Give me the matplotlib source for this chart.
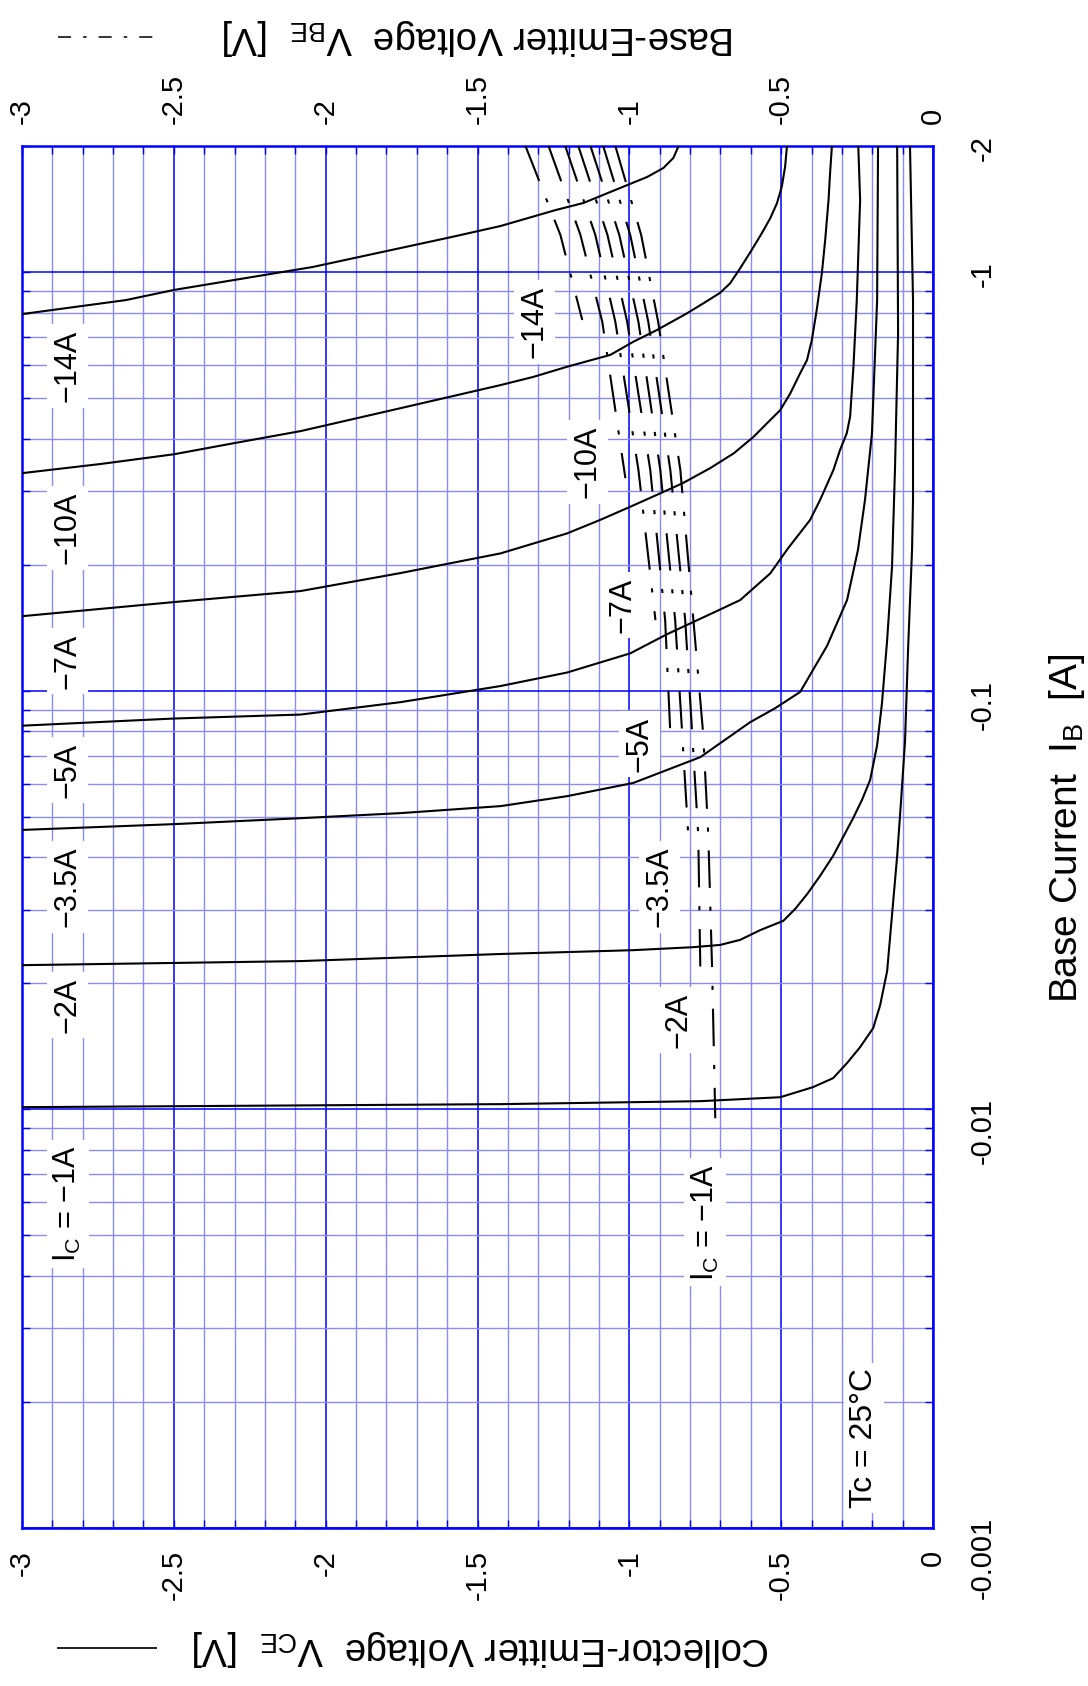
import numpy as np
import matplotlib
matplotlib.use('Agg')
import matplotlib.pyplot as plt
from matplotlib.ticker import FixedLocator, FuncFormatter, NullFormatter
from matplotlib.lines import Line2D

plt.rcParams['font.family'] = ['Liberation Sans', 'DejaVu Sans']
plt.rcParams['mathtext.fontset'] = 'custom'
plt.rcParams['mathtext.rm'] = 'Liberation Sans'
plt.rcParams['mathtext.it'] = 'Liberation Sans:italic'
plt.rcParams['mathtext.bf'] = 'Liberation Sans:bold'

# ---------------- data (IB in A, negative as on the chart; voltages in V) ----------------
# Collector-Emitter voltage VCE vs base current IB, one curve per IC
vce_ic14 = [-0.839, -0.855, -0.888, -0.941, -1.007, -1.151, -1.243, -1.424, -1.586, -2.043, -2.5, -2.658, -2.997]
ib_ic14 = [-1.99, -1.873, -1.772, -1.687, -1.613, -1.462, -1.406, -1.288, -1.212, -1.028, -0.906, -0.857, -0.794]

vce_ic10 = [-0.481, -0.487, -0.498, -0.514, -0.536, -0.564, -0.597, -0.635, -0.668, -0.701, -0.756, -0.810,
            -0.909, -0.986, -1.0625, -1.205, -1.315, -1.424, -1.753, -2.082, -2.303, -2.5, -2.740, -2.997]
ib_ic10 = [-1.994, -1.785, -1.599, -1.459, -1.344, -1.237, -1.129, -1.021, -0.940, -0.892, -0.842, -0.797,
           -0.727, -0.682, -0.634, -0.594, -0.562, -0.537, -0.473, -0.417, -0.390, -0.367, -0.348, -0.331]

vce_ic7 = [-0.333, -0.339, -0.344, -0.355, -0.366, -0.383, -0.399, -0.415, -0.4375, -0.470, -0.503, -0.547,
           -0.591, -0.656, -0.734, -0.8245, -0.912, -0.997, -1.095, -1.205, -1.315, -1.424, -1.753, -2.082,
           -2.5, -2.997]
ib_ic7 = [-1.994, -1.721, -1.486, -1.193, -0.993, -0.811, -0.688, -0.616, -0.573, -0.513, -0.468, -0.435,
          -0.404, -0.369, -0.340, -0.313, -0.293, -0.275, -0.256, -0.2375, -0.2248, -0.2128, -0.191, -0.173,
          -0.1628, -0.1507]

vce_ic5 = [-0.246, -0.240, -0.251, -0.262, -0.273, -0.284, -0.306, -0.328, -0.372, -0.405, -0.477, -0.536,
           -0.635, -0.7115, -0.876, -0.997, -1.205, -1.424, -1.753, -2.082, -2.5, -2.997]
ib_ic5 = [-1.994, -1.486, -0.857, -0.594, -0.451, -0.412, -0.376, -0.3365, -0.2853, -0.2556, -0.219, -0.1906,
          -0.1646, -0.155, -0.1364, -0.1228, -0.1105, -0.1026, -0.0939, -0.0877, -0.0858, -0.0825]

vce_ic3p5 = [-0.181, -0.184, -0.201, -0.224, -0.247, -0.283, -0.349, -0.4375, -0.520, -0.602, -0.766, -0.987,
             -1.204, -1.424, -1.753, -2.082, -2.5, -2.997]
ib_ic3p5 = [-1.99, -0.857, -0.412, -0.2853, -0.2171, -0.1646, -0.1279, -0.0993, -0.0908, -0.0841, -0.0694,
            -0.0602, -0.0560, -0.0530, -0.0510, -0.0496, -0.0480, -0.0465]

vce_ic2 = [-0.118, -0.115, -0.125, -0.135, -0.151, -0.168, -0.184, -0.207, -0.234, -0.263, -0.329, -0.372,
           -0.414, -0.454, -0.493, -0.569, -0.635, -0.701, -0.789, -0.987, -1.424, -2.082, -2.997]
ib_ic2 = [-1.99, -0.715, -0.342, -0.1974, -0.1321, -0.0934, -0.0741, -0.0612, -0.0548, -0.0496, -0.0403,
          -0.0361, -0.0327, -0.0301, -0.0282, -0.0268, -0.0254, -0.0247, -0.0244, -0.0240, -0.0235, -0.0226,
          -0.0221]

vce_ic1 = [-0.0757, -0.0658, -0.0658, -0.069, -0.0822, -0.0921, -0.105, -0.118, -0.135, -0.151, -0.174,
           -0.197, -0.240, -0.283, -0.329, -0.395, -0.503, -0.766, -1.424, -2.997]
ib_ic1 = [-1.99, -0.857, -0.2853, -0.2171, -0.125, -0.0758, -0.0548, -0.0403, -0.0291, -0.0214, -0.01774,
          -0.01563, -0.01408, -0.01290, -0.01187, -0.01130, -0.01069, -0.01046, -0.01029, -0.01012]

# Base-Emitter voltage VBE vs base current IB, one curve per IC
vbe_ic14 = [-1.342, -1.227, -1.155]
ibb_ic14 = [-2.0, -1.226, -0.768]
vbe_ic10 = [-1.266, -1.161, -1.089, -1.013]
ibb_ic10 = [-2.0, -1.226, -0.760, -0.3218]
vbe_ic7 = [-1.211, -1.112, -1.046, -0.970, -0.914]
ibb_ic7 = [-2.0, -1.226, -0.760, -0.3365, -0.1474]
vbe_ic5 = [-1.168, -1.072, -1.007, -0.931, -0.882, -0.865]
ibb_ic5 = [-2.0, -1.226, -0.760, -0.3365, -0.1474, -0.0791]
vbe_ic3p5 = [-1.128, -1.033, -0.970, -0.898, -0.849, -0.826, -0.806]
ibb_ic3p5 = [-2.0, -1.226, -0.760, -0.3365, -0.1474, -0.0791, -0.0452]
vbe_ic2 = [-1.086, -0.997, -0.9375, -0.865, -0.816, -0.793, -0.773, -0.766]
ibb_ic2 = [-2.0, -1.226, -0.760, -0.3365, -0.1474, -0.0791, -0.0452, -0.0211]
vbe_ic1 = [-1.046, -0.961, -0.905, -0.832, -0.789, -0.757, -0.740, -0.727, -0.717]
ibb_ic1 = [-2.0, -1.226, -0.760, -0.3365, -0.1474, -0.0791, -0.0452, -0.0211, -0.00952]

ic_labels = ['−14A', '−10A', '−7A', '−5A', '−3.5A', '−2A', 'I$_\\mathrm{C}$ = −1A']
v_ticks = [-3, -2.5, -2, -1.5, -1, -0.5, 0]
ib_ticks = [-0.001, -0.01, -0.1, -1, -2]

vce_curves = [(vce_ic14, ib_ic14), (vce_ic10, ib_ic10), (vce_ic7, ib_ic7), (vce_ic5, ib_ic5),
              (vce_ic3p5, ib_ic3p5), (vce_ic2, ib_ic2), (vce_ic1, ib_ic1)]
vbe_curves = [(vbe_ic14, ibb_ic14), (vbe_ic10, ibb_ic10), (vbe_ic7, ibb_ic7), (vbe_ic5, ibb_ic5),
              (vbe_ic3p5, ibb_ic3p5), (vbe_ic2, ibb_ic2), (vbe_ic1, ibb_ic1)]

# ---------------- figure ----------------
W, H = 1088, 1686
fig = plt.figure(figsize=(W / 100, H / 100), dpi=100)
ax = fig.add_axes([22 / W, 1 - 1528 / H, (933 - 22) / W, (1528 - 146) / H])

BLUE = '#0000ff'
LIGHT = '#8a8aff'

ax.set_yscale('log')
ax.set_xlim(-3, 0)
ax.set_ylim(0.001, 2)

ax.xaxis.set_major_locator(FixedLocator(v_ticks))
ax.xaxis.set_minor_locator(FixedLocator(np.round(np.arange(-3, 0.001, 0.1), 2)))
ax.xaxis.set_major_formatter(FuncFormatter(lambda v, p: '0' if abs(v) < 1e-9 else '%g' % v))
ax.xaxis.set_minor_formatter(NullFormatter())
ax.yaxis.set_major_locator(FixedLocator([-t for t in ib_ticks]))
ax.yaxis.set_minor_locator(FixedLocator([k * 10.0 ** d for d in (-3, -2, -1) for k in range(2, 10)]))
ax.yaxis.set_major_formatter(FuncFormatter(lambda v, p: '-%g' % v))
ax.yaxis.set_minor_formatter(NullFormatter())

ax.set_axisbelow(True)
ax.grid(which='minor', color=LIGHT, lw=1.0)
ax.grid(which='major', color=BLUE, lw=1.1)

for s in ax.spines.values():
    s.set_color(BLUE)
    s.set_linewidth(1.8)

ax.tick_params(axis='both', which='both', direction='in', color=BLUE, width=1.0, length=6,
               top=True, bottom=True, left=True, right=True)
ax.tick_params(axis='x', which='major', labelbottom=True, labeltop=True, labelrotation=90,
               labelsize=21, pad=16)
ax.tick_params(axis='y', which='major', labelleft=False, labelright=True, labelrotation=90,
               labelsize=21, pad=26)

# curves
for (v, ib) in vce_curves:
    ax.plot(v, -np.asarray(ib), color='black', lw=1.5, zorder=4,
            solid_joinstyle='round', solid_capstyle='round')
for (v, ib) in vbe_curves:
    ax.plot(v, -np.asarray(ib), color='black', lw=1.5, zorder=4,
            linestyle=(0, (18, 9, 2, 9)))

# curve labels
lab_kw = dict(rotation=90, ha='center', va='center', fontsize=22, zorder=3,
              bbox=dict(facecolor='white', edgecolor='none', pad=4))
left_pos = [(-2.849, 0.596), (-2.849, 0.2445), (-2.849, 0.1177), (-2.849, 0.0646),
            (-2.849, 0.03395), (-2.849, 0.01774), (-2.849, 0.00594)]
mid_pos = [(-1.3125, 0.760), (-1.138, 0.3516), (-1.023, 0.1601), (-0.967, 0.0746),
           (-0.901, 0.0340), (-0.839, 0.01633), (-0.75, 0.005377)]
for lab, (x, y) in zip(ic_labels, left_pos):
    ax.text(x, y, lab, **lab_kw)
for lab, (x, y) in zip(ic_labels, mid_pos):
    ax.text(x, y, lab, **lab_kw)
ax.text(-0.227, 0.00164, 'Tc = 25°C', **dict(lab_kw, fontsize=23))

# axis titles
fig.text(1067 / W, 1 - 828 / H, 'Base Current  I$_\\mathrm{B}$  [A]', rotation=90,
         ha='center', va='center', fontsize=28)
fig.text(479 / W, 1 - 37 / H, 'Base-Emitter Voltage  V$_\\mathrm{BE}$  [V]', rotation=180,
         ha='center', va='center', fontsize=27.5)
fig.text(481 / W, 1 - 1648 / H, 'Collector-Emitter Voltage  V$_\\mathrm{CE}$  [V]', rotation=180,
         ha='center', va='center', fontsize=27.5)

# legend samples
fig.add_artist(Line2D([58 / W, 156 / W], [1 - 37 / H] * 2, transform=fig.transFigure,
                      color='#333333', lw=1.4, linestyle=(0, (6.7, 6.2, 1.8, 6.2))))
fig.add_artist(Line2D([58 / W, 156 / W], [1 - 1648 / H] * 2, transform=fig.transFigure,
                      color='#222222', lw=1.4))

fig.savefig('out.png', dpi=100)
